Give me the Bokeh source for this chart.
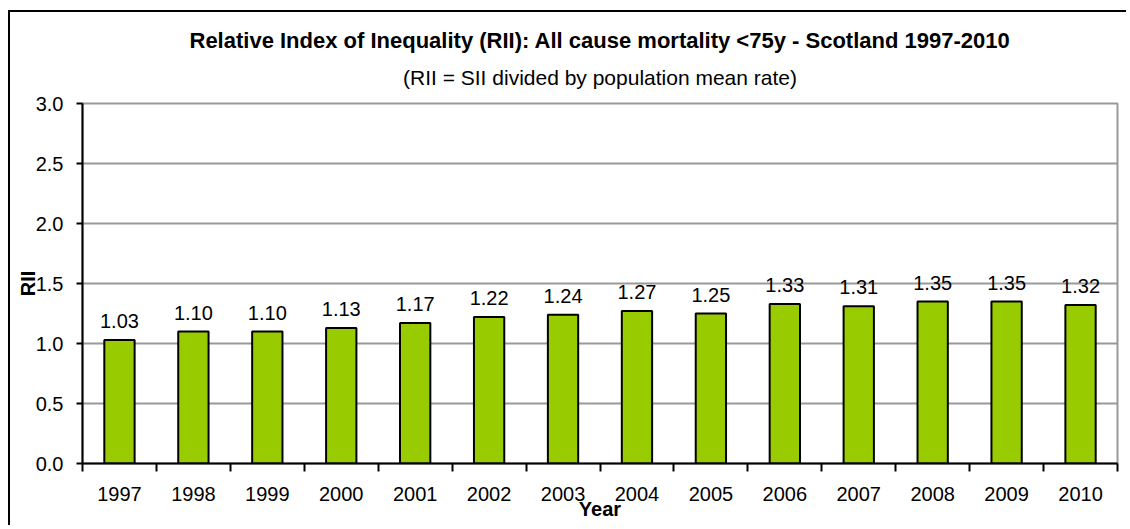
from bokeh.plotting import figure
from bokeh.models import ColumnDataSource, FixedTicker, Range1d, CustomJSTickFormatter, Title
from bokeh.core.properties import value
from bokeh.embed import file_html
from bokeh.resources import INLINE

years = [1997, 1998, 1999, 2000, 2001, 2002, 2003, 2004, 2005, 2006, 2007, 2008, 2009, 2010]
rii = [1.03, 1.10, 1.10, 1.13, 1.17, 1.22, 1.24, 1.27, 1.25, 1.33, 1.31, 1.35, 1.35, 1.32]
y_ticks = [0.0, 0.5, 1.0, 1.5, 2.0, 2.5, 3.0]
title_text = "Relative Index of Inequality (RII): All cause mortality <75y - Scotland 1997-2010"
subtitle_text = "(RII = SII divided by population mean rate)"
x_label = "Year"
y_label = "RII"

FONT = "Liberation Sans"
W, H = 1118, 515
ML, MR, MT, MB = 72, 11, 91, 64

src = ColumnDataSource(dict(x=years, top=rii, lab=["%.2f" % v for v in rii]))

p = figure(width=W, height=H, output_backend="svg", toolbar_location=None,
           x_range=Range1d(years[0] - 0.5, years[-1] + 0.5), y_range=Range1d(0, 3),
           min_border_left=ML, min_border_right=MR, min_border_top=MT, min_border_bottom=MB)
p.styles = {"margin": "10px 0px 0px 8px", "border-top": "2px solid black",
            "border-left": "2px solid black"}
p.outline_line_color = "#999999"
p.outline_line_width = 2
p.background_fill_color = "white"
p.border_fill_color = "white"

p.title.text = title_text
p.title.align = "center"
p.title.text_font = FONT
p.title.text_font_size = "22px"
p.title.text_font_style = "bold"
p.title.text_color = "black"
p.title.standoff = -6
p.add_layout(Title(text=subtitle_text, align="center", text_font=FONT, text_font_size="21px",
                   text_font_style="normal", text_color="black", standoff=29), "above")

p.vbar(x="x", top="top", width=0.41, bottom=0, source=src,
       fill_color="#99CC00", line_color="black", line_width=2)
p.text(x="x", y="top", text="lab", source=src, text_align="center",
       text_baseline="alphabetic", y_offset=-19, text_font=value(FONT),
       text_font_size="20px", text_color="black")

p.xgrid.visible = False
p.ygrid.ticker = FixedTicker(ticks=y_ticks)
p.ygrid.grid_line_color = "#999999"
p.ygrid.grid_line_width = 2

xa = p.xaxis[0]
xa.ticker = FixedTicker(ticks=years, minor_ticks=[y - 0.5 for y in years] + [years[-1] + 0.5])
xa.major_tick_out = 0
xa.major_tick_in = 0
xa.minor_tick_out = 8
xa.minor_tick_in = 0
xa.minor_tick_line_color = "black"
xa.minor_tick_line_width = 2
xa.axis_line_color = "black"
xa.axis_line_width = 2
xa.major_label_text_font = FONT
xa.major_label_text_font_size = "20px"
xa.major_label_text_color = "black"
xa.major_label_standoff = 15
xa.axis_label = x_label
xa.axis_label_text_font = FONT
xa.axis_label_text_font_size = "20px"
xa.axis_label_text_font_style = "bold"
xa.axis_label_text_color = "black"
xa.axis_label_standoff = -6

ya = p.yaxis[0]
ya.ticker = FixedTicker(ticks=y_ticks)
ya.formatter = CustomJSTickFormatter(code="return tick.toFixed(1);")
ya.major_tick_out = 6
ya.major_tick_in = 0
ya.minor_tick_out = 0
ya.minor_tick_in = 0
ya.major_tick_line_width = 2
ya.axis_line_color = "black"
ya.axis_line_width = 2
ya.major_label_text_font = FONT
ya.major_label_text_font_size = "20px"
ya.major_label_text_color = "black"
ya.major_label_standoff = 13
ya.axis_label = y_label
ya.axis_label_text_font = FONT
ya.axis_label_text_font_size = "20px"
ya.axis_label_text_font_style = "bold"
ya.axis_label_text_color = "black"
ya.axis_label_standoff = -6

open("out.html", "w").write(file_html(p, INLINE))
